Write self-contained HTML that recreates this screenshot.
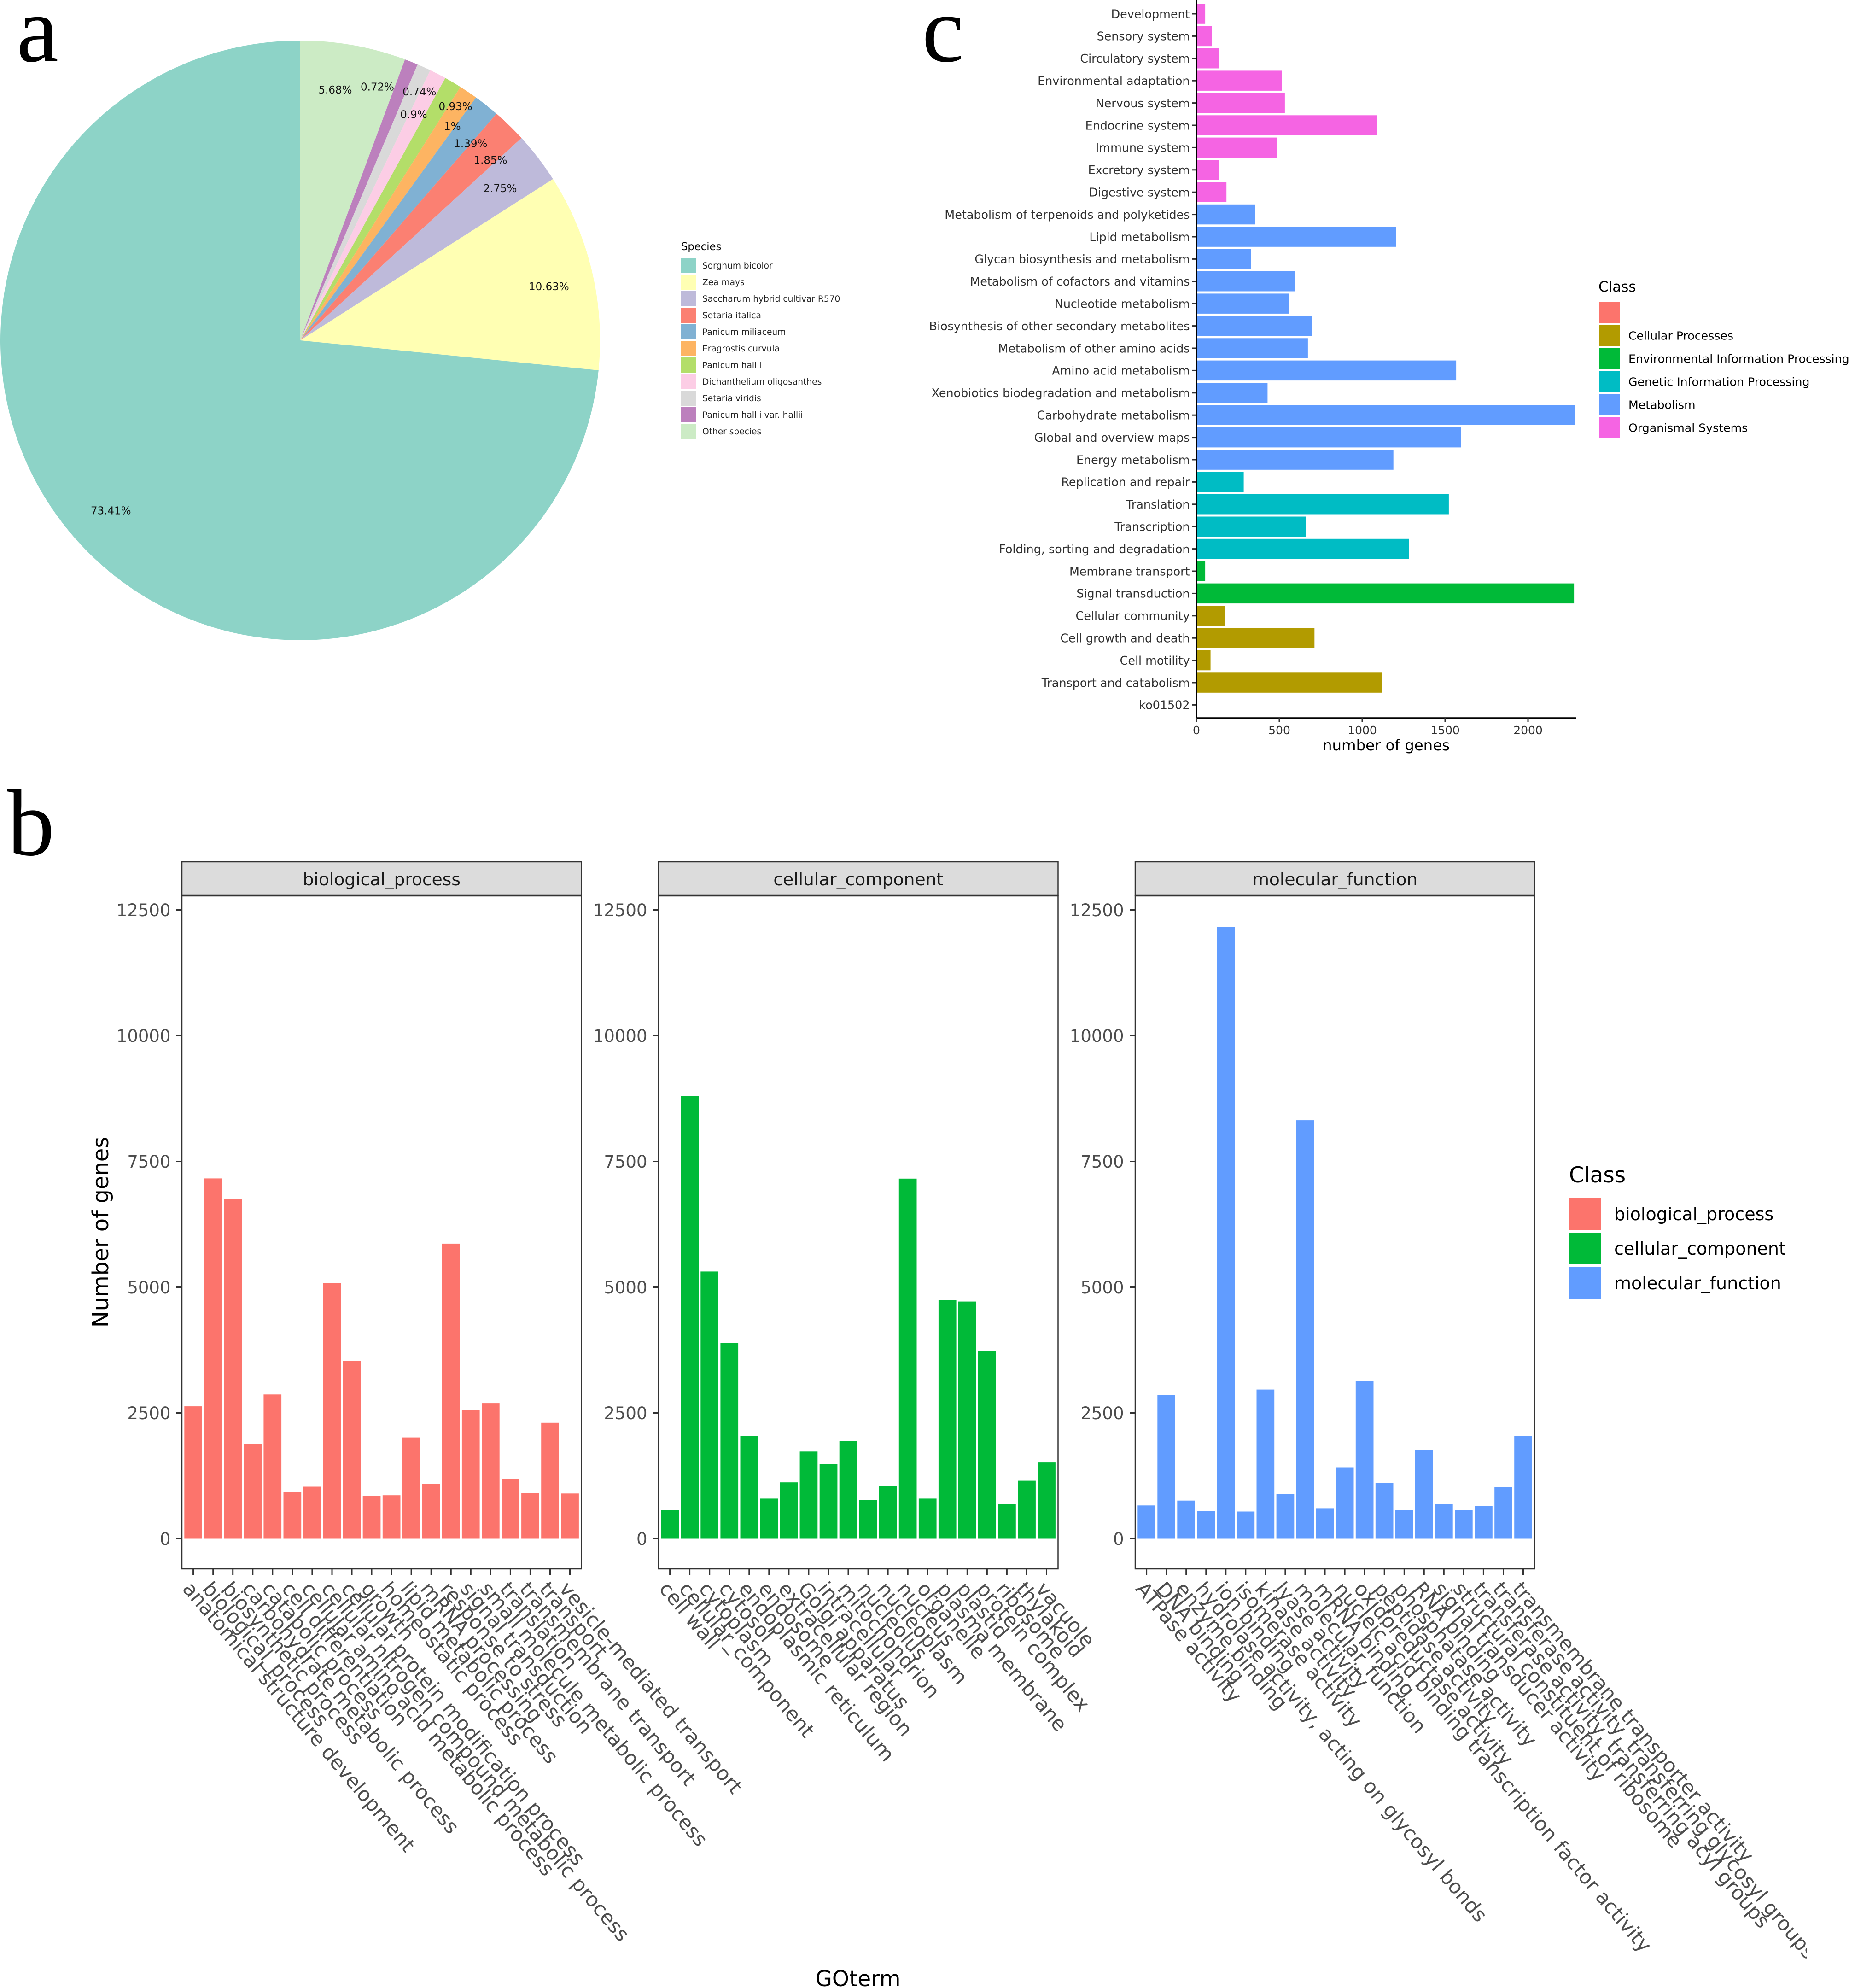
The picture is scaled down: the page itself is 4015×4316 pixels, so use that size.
<!DOCTYPE html>
<html lang="en">
<head>
<meta charset="utf-8">
<title>Species, GO and KEGG annotation figure</title>
<style>
html,body{margin:0;padding:0;background:#fff;width:4015px;height:4316px;overflow:hidden}
svg{display:block}
text{font-family:"DejaVu Sans","Liberation Sans",sans-serif}
.letter{font-family:"Liberation Serif","DejaVu Serif",serif;fill:#000}
</style>
</head>
<body>
<svg id="fig" xmlns="http://www.w3.org/2000/svg" width="4015" height="4316" viewBox="0 0 4015 4316">
  <defs><clipPath id="figClip"><rect x="0" y="0" width="3923" height="4316"/></clipPath></defs>
  <rect x="0" y="0" width="4015" height="4316" fill="#fff"/>
  <text class="letter" x="36" y="133" font-size="205">a</text>
  <text class="letter" x="16" y="1856" font-size="205">b</text>
  <text class="letter" x="2002" y="133" font-size="205">c</text>
  <g id="pie"></g>
  <g id="pieLegend"></g>
  <g id="kegg"></g>
  <g id="keggLegend"></g>
  <g id="go"></g>
  <g id="goLegend"></g>
</svg>
<script>
/* ---------- panel a data ---------- */
var speciesNames = ["Sorghum bicolor","Zea mays","Saccharum hybrid cultivar R570","Setaria italica","Panicum miliaceum","Eragrostis curvula","Panicum hallii","Dichanthelium oligosanthes","Setaria viridis","Panicum hallii var. hallii","Other species"];
var speciesPercent = [73.41,10.63,2.75,1.85,1.39,1,0.93,0.9,0.74,0.72,5.68];

/* ---------- panel c data ---------- */
var keggPathways = ["Development","Sensory system","Circulatory system","Environmental adaptation","Nervous system","Endocrine system","Immune system","Excretory system","Digestive system","Metabolism of terpenoids and polyketides","Lipid metabolism","Glycan biosynthesis and metabolism","Metabolism of cofactors and vitamins","Nucleotide metabolism","Biosynthesis of other secondary metabolites","Metabolism of other amino acids","Amino acid metabolism","Xenobiotics biodegradation and metabolism","Carbohydrate metabolism","Global and overview maps","Energy metabolism","Replication and repair","Translation","Transcription","Folding, sorting and degradation","Membrane transport","Signal transduction","Cellular community","Cell growth and death","Cell motility","Transport and catabolism","ko01502"];
var keggCounts = [53,94,136,514,533,1090,489,136,181,353,1205,329,595,557,699,672,1567,429,2286,1597,1188,285,1522,659,1282,53,2278,170,712,85,1120,0];
var keggClassOfPathway = [5,5,5,5,5,5,5,5,5,4,4,4,4,4,4,4,4,4,4,4,4,3,3,3,3,2,2,1,1,1,1,0];
var keggClassNames = ["","Cellular Processes","Environmental Information Processing","Genetic Information Processing","Metabolism","Organismal Systems"];
var keggTicks = [0,500,1000,1500,2000];

/* ---------- panel b data ---------- */
var goFacets = ["biological_process","cellular_component","molecular_function"];
var bpTerms = ["anatomical structure development","biological_process","biosynthetic process","carbohydrate metabolic process","catabolic process","cell differentiation","cellular amino acid metabolic process","cellular nitrogen compound metabolic process","cellular protein modification process","growth","homeostatic process","lipid metabolic process","mRNA processing","response to stress","signal transduction","small molecule metabolic process","translation","transmembrane transport","transport","vesicle-mediated transport"];
var bpCounts = [2632,7162,6750,1883,2868,929,1035,5083,3536,854,864,2014,1090,5866,2551,2687,1180,909,2305,899];
var ccTerms = ["cell wall","cellular_component","cytoplasm","cytosol","endoplasmic reticulum","endosome","extracellular region","Golgi apparatus","intracellular","mitochondrion","nucleolus","nucleoplasm","nucleus","organelle","plasma membrane","plastid","protein complex","ribosome","thylakoid","vacuole"];
var ccCounts = [572,8802,5312,3893,2047,798,1120,1733,1483,1943,774,1040,7158,798,4748,4715,3732,685,1153,1515];
var mfTerms = ["ATPase activity","DNA binding","enzyme binding","hydrolase activity, acting on glycosyl bonds","ion binding","isomerase activity","kinase activity","lyase activity","molecular_function","mRNA binding","nucleic acid binding transcription factor activity","oxidoreductase activity","peptidase activity","phosphatase activity","RNA binding","signal transducer activity","structural constituent of ribosome","transferase activity, transferring acyl groups","transferase activity, transferring glycosyl groups","transmembrane transporter activity"];
var mfCounts = [661,2853,758,548,12164,540,2966,887,8319,605,1419,3136,1104,572,1765,685,564,653,1024,2047];
var goTicks = [0,2500,5000,7500,10000,12500];

/* ---------- layout and style (not data) ---------- */
var SVGNS = "http://www.w3.org/2000/svg";
var pieColors = ["#8DD3C7","#FFFFB3","#BEBADA","#FB8072","#80B1D3","#FDB462","#B3DE69","#FCCDE5","#D9D9D9","#BC80BD","#CCEBC5"];
var keggColors = ["#FC746C","#B29B00","#00BA38","#00BCC4","#619CFF","#F564E3"];
var goColors = ["#FC746C","#00BA38","#619CFF"];
/* repel-style nudges applied to pie labels, in the species order */
var pieLabelNudgeX = [-2,3,-4,28,27,21,56,-7,31,-37,-22];
var pieLabelNudgeY = [-1,11,6,4,5,-8,-33,0,-37,-38,-1];

function add(parent, tag, attrs, txt){
  var el = document.createElementNS(SVGNS, tag);
  for (var k in attrs) el.setAttribute(k, attrs[k]);
  if (txt !== undefined) el.textContent = txt;
  parent.appendChild(el);
  return el;
}
function slug(s){ return String(s).toLowerCase().replace(/[^a-z0-9]+/g,'-').replace(/^-|-$/g,''); }

/* ---------- panel a ---------- */
(function(){
  var g = document.getElementById('pie');
  var cx = 652, cy = 739, R = 651, labelR = 552;
  var total = speciesPercent.reduce(function(a,b){return a+b;},0);
  function pt(frac, r){
    var a = frac*2*Math.PI;
    return [cx + r*Math.sin(a), cy - r*Math.cos(a)];
  }
  var cum = 0;
  for (var i = speciesPercent.length-1; i >= 0; i--){
    var f0 = cum/total, f1 = (cum+speciesPercent[i])/total;
    var p0 = pt(f0,R), p1 = pt(f1,R);
    var large = (f1-f0) > 0.5 ? 1 : 0;
    var d = 'M'+cx+' '+cy+'L'+p0[0].toFixed(2)+' '+p0[1].toFixed(2)+'A'+R+' '+R+' 0 '+large+' 1 '+p1[0].toFixed(2)+' '+p1[1].toFixed(2)+'Z';
    var s = add(g,'path',{d:d,fill:pieColors[i]});
    
    
    cum += speciesPercent[i];
  }
  cum = 0;
  for (var j = speciesPercent.length-1; j >= 0; j--){
    var mid = (cum+speciesPercent[j]/2)/total;
    var lp = pt(mid,labelR);
    var t = add(g,'text',{x:(lp[0]+pieLabelNudgeX[j]).toFixed(1),y:(lp[1]+pieLabelNudgeY[j]+8).toFixed(1),'text-anchor':'middle','font-size':23,fill:'#111'},speciesPercent[j]+'%');
    
    
    cum += speciesPercent[j];
  }
  var lg = document.getElementById('pieLegend');
  var title = add(lg,'text',{x:1479,y:543,'font-size':22.7,fill:'#000'},'Species');
  
  
  speciesNames.forEach(function(n,i){
    var y = 560 + i*36;
    var r = add(lg,'rect',{x:1479,y:y.toFixed(1),width:33,height:33,fill:pieColors[i]});
    
    
    var t = add(lg,'text',{x:1525,y:(y+23).toFixed(1),'font-size':18.6,fill:'#222'},n);
    
    
  });
})();

/* ---------- panel c ---------- */
(function(){
  var g = document.getElementById('kegg');
  var x0 = 2598, pxPerGene = 0.36, axisEnd = 3423, axisY = 1559;
  var y0 = 30, step = 48.4, barH = 43.5;
  function xScale(v){ return x0 + v*pxPerGene; }
  function yScale(i){ return y0 + i*step; }
  keggPathways.forEach(function(name,i){
    var v = keggCounts[i], cy = yScale(i);
    var b = add(g,'rect',{x:x0,y:(cy-barH/2).toFixed(1),width:(xScale(v)-x0).toFixed(1),height:barH,fill:keggColors[keggClassOfPathway[i]]});
    
    
    var tk = add(g,'line',{x1:x0-9,x2:x0,y1:cy.toFixed(1),y2:cy.toFixed(1),stroke:'#333','stroke-width':3});
    
    
    var t = add(g,'text',{x:x0-14.5,y:(cy+9.3).toFixed(1),'text-anchor':'end','font-size':25.4,fill:'#303030'},name);
    
    
  });
  var ay = add(g,'line',{x1:x0,x2:x0,y1:0,y2:axisY+1.5,stroke:'#000','stroke-width':3.5});
  
  
  var ax = add(g,'line',{x1:x0,x2:axisEnd,y1:axisY,y2:axisY,stroke:'#000','stroke-width':3.5});
  
  
  keggTicks.forEach(function(v){
    var x = xScale(v);
    var tk = add(g,'line',{x1:x,x2:x,y1:axisY,y2:axisY+9,stroke:'#333','stroke-width':3});
    
    
    var t = add(g,'text',{x:x,y:1594,'text-anchor':'middle','font-size':25,fill:'#303030'},v);
    
    
  });
  var xt = add(g,'text',{x:3010,y:1629,'text-anchor':'middle','font-size':32.4,fill:'#000'},'number of genes');
  
  

  var lg = document.getElementById('keggLegend');
  var title = add(lg,'text',{x:3471,y:633,'font-size':31,fill:'#000'},'Class');
  
  
  keggClassNames.forEach(function(n,i){
    var y = 656 + i*50;
    var r = add(lg,'rect',{x:3472,y:y.toFixed(1),width:46,height:45,fill:keggColors[i]});
    
    
    if (n){
      var t = add(lg,'text',{x:3536,y:(y+31.7).toFixed(1),'font-size':25.2,fill:'#000'},n);
      
      
    }
  });
})();

/* ---------- panel b ---------- */
(function(){
  var g = document.getElementById('go');
  var panelLefts = [395,1430,2465];
  var panelW = 867.5, stripTop = 1871, panelTop = 1944, panelBottom = 3406;
  var y0 = 3340.5, pxPerGene = 0.1092, firstOffset = 24.6, step = 43.05, barW = 38.7;
  var termSets = [bpTerms,ccTerms,mfTerms];
  var countSets = [bpCounts,ccCounts,mfCounts];
  function yScale(v){ return y0 - v*pxPerGene; }
  var labels = add(g,'g',{'clip-path':'url(#figClip)'});
  
  
  goFacets.forEach(function(facet,p){
    var left = panelLefts[p];
    function xScale(i){ return left + firstOffset + i*step; }
    var strip = add(g,'rect',{x:left,y:stripTop,width:panelW,height:panelTop-stripTop,fill:'#DCDCDC',stroke:'#333','stroke-width':2.5});
    
    
    var st = add(g,'text',{x:left+panelW/2,y:1922,'text-anchor':'middle','font-size':37.6,fill:'#1a1a1a'},facet);
    
    
    termSets[p].forEach(function(term,i){
      var v = countSets[p][i], cx = xScale(i);
      var b = add(g,'rect',{x:(cx-barW/2).toFixed(1),y:yScale(v).toFixed(1),width:barW,height:(y0-yScale(v)).toFixed(1),fill:goColors[p]});
      
      
      var tk = add(g,'line',{x1:cx.toFixed(1),x2:cx.toFixed(1),y1:panelBottom,y2:panelBottom+14,stroke:'#333','stroke-width':3});
      
      
      var t = add(labels,'text',{transform:'translate('+cx.toFixed(1)+' 3429) rotate(49.7)',x:0,y:33,'font-size':43.4,fill:'#4D4D4D'},term);
      
      
    });
    var frame = add(g,'rect',{x:left,y:panelTop,width:panelW,height:panelBottom-panelTop,fill:'none',stroke:'#333','stroke-width':2.5});
    
    
    var seam = add(g,'line',{x1:left,x2:left+panelW,y1:panelTop,y2:panelTop,stroke:'#333','stroke-width':4.5});
    
    
    goTicks.forEach(function(v){
      var y = yScale(v);
      var tk = add(g,'line',{x1:left-12,x2:left,y1:y.toFixed(1),y2:y.toFixed(1),stroke:'#333','stroke-width':3});
      
      
      var t = add(g,'text',{x:left-24.5,y:(y+13.5).toFixed(1),'text-anchor':'end','font-size':37,fill:'#4D4D4D'},v);
      
      
    });
  });
  var yt = add(g,'text',{transform:'translate(235 2675) rotate(-90)','text-anchor':'middle','font-size':48,fill:'#000'},'Number of genes');
  
  
  var xt = add(g,'text',{x:1863,y:4312,'text-anchor':'middle','font-size':47,fill:'#000'},'GOterm');
  
  

  var lg = document.getElementById('goLegend');
  var title = add(lg,'text',{x:3407,y:2567,'font-size':46.8,fill:'#000'},'Class');
  
  
  goFacets.forEach(function(n,i){
    var y = 2601 + i*75;
    var r = add(lg,'rect',{x:3408,y:y.toFixed(1),width:69,height:69,fill:goColors[i]});
    
    
    var t = add(lg,'text',{x:3505,y:(y+48).toFixed(1),'font-size':38,fill:'#000'},n);
    
    
  });
})();
</script>
</body>
</html>
